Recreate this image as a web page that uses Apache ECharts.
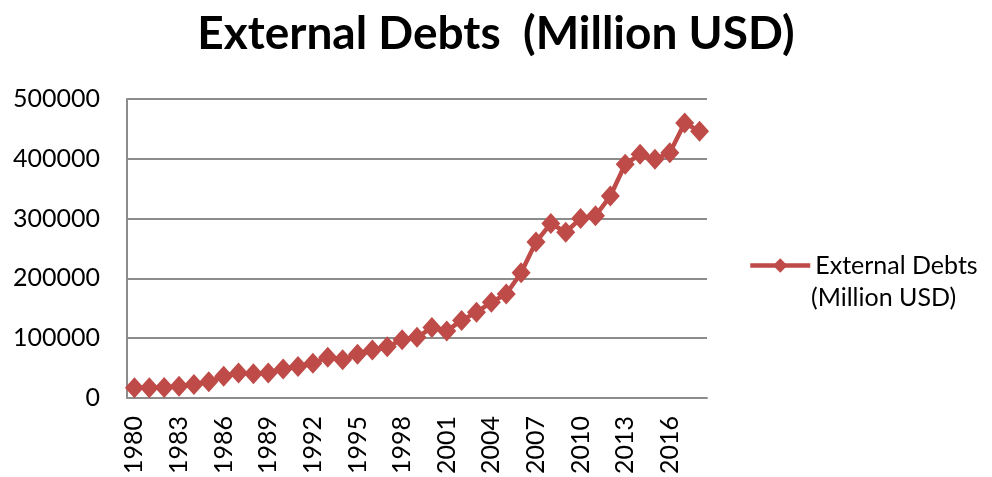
<!DOCTYPE html>
<html>
<head>
<meta charset="utf-8">
<script src="https://cdn.jsdelivr.net/npm/echarts@6/dist/echarts.min.js"></script>
<style>
html,body{margin:0;padding:0;background:#fff;}
#chart{width:992px;height:477px;}
</style>
</head>
<body>
<div id="chart"></div>
<script>
const years = ['1980','1981','1982','1983','1984','1985','1986','1987','1988','1989',
  '1990','1991','1992','1993','1994','1995','1996','1997','1998','1999',
  '2000','2001','2002','2003','2004','2005','2006','2007','2008','2009',
  '2010','2011','2012','2013','2014','2015','2016','2017','2018'];
const debts = [17000,17000,17500,19800,22500,27000,36300,41800,40700,41800,
  48400,52800,58300,68200,63800,73200,80300,85800,97500,101500,
  117700,112200,129800,143500,160000,173800,209500,260700,292000,277200,
  300300,304700,337700,391000,407500,399300,410300,459800,446000];
const yTicks = [0,100000,200000,300000,400000,500000];
const seriesName = 'External Debts (Million USD)';
const titleText = 'External Debts  (Million USD)';

const FONT = 'Lato';
const RED = '#be4b48';
const chart = echarts.init(document.getElementById('chart'), null, {renderer:'canvas'});
chart.setOption({
  animation: false,
  backgroundColor: '#ffffff',
  title: {
    text: titleText,
    left: 'center',
    top: 6,
    textStyle: {fontFamily: FONT, fontWeight: 'bold', fontSize: 46, color: '#000'}
  },
  grid: {left: 127, right: 285, top: 99, bottom: 75, containLabel: false},
  legend: {
    show: true,
    orient: 'vertical',
    left: 748,
    top: 253,
    padding: 0,
    itemWidth: 60,
    itemHeight: 18,
    itemGap: 0,
    formatter: function(){ return 'External Debts'; },
    lineStyle: {width: 4.5, color: RED},
    textStyle: {fontFamily: FONT, fontSize: 25, color: '#000'}
  },
  graphic: [{
    type: 'text',
    left: 811,
    top: 285,
    style: {text: '(Million USD)', font: '25px Lato', fill: '#000'}
  }],
  xAxis: {
    type: 'category',
    data: years,
    boundaryGap: true,
    axisLine: {show: true, lineStyle: {color: '#8c8c8c', width: 2}},
    axisTick: {show: false},
    axisLabel: {
      interval: 2,
      rotate: 90,
      margin: 18,
      fontFamily: FONT,
      fontSize: 25,
      color: '#000'
    },
    splitLine: {show: false}
  },
  yAxis: {
    type: 'value',
    min: yTicks[0],
    max: yTicks[yTicks.length-1],
    interval: yTicks[1]-yTicks[0],
    axisLine: {show: true, lineStyle: {color: '#8c8c8c', width: 2}},
    axisTick: {show: false},
    axisLabel: {margin: 27, fontFamily: FONT, fontSize: 25, color: '#000',
      formatter: function(v){ return String(v); }},
    splitLine: {show: true, lineStyle: {color: '#8c8c8c', width: 2}}
  },
  series: [{
    name: seriesName,
    type: 'line',
    data: debts,
    symbol: 'diamond',
    symbolSize: [19, 21],
    showSymbol: true,
    showAllSymbol: true,
    lineStyle: {color: RED, width: 4.5},
    itemStyle: {color: RED}
  }]
});
</script>
</body>
</html>
